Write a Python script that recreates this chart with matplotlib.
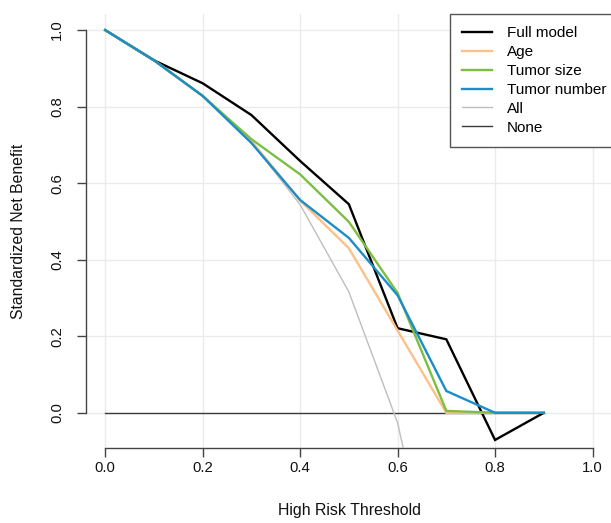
import matplotlib
matplotlib.use("Agg")
import matplotlib.pyplot as plt

plt.rcParams['font.family'] = ['Liberation Sans', 'DejaVu Sans']

# thresholds and standardized net benefit
thresholds = [0.0, 0.1, 0.2, 0.3, 0.4, 0.5, 0.6, 0.7, 0.8, 0.9]
full_model = [1.0, 0.921, 0.861, 0.778, 0.658, 0.545, 0.221, 0.192, -0.071, 0.0]
age = [1.0, 0.921, 0.828, 0.710, 0.555, 0.430, 0.215, 0.0, 0.0, 0.0]
tumor_size = [1.0, 0.921, 0.828, 0.715, 0.623, 0.499, 0.313, 0.005, 0.0, 0.0]
tumor_number = [1.0, 0.921, 0.828, 0.705, 0.556, 0.457, 0.307, 0.057, 0.0, 0.0]
treat_all = [1.0, 0.924, 0.829, 0.707, 0.544, 0.316, -0.026, -0.596, -1.736, -5.16]
treat_none = [0.0, 0.0, 0.0, 0.0, 0.0, 0.0, 0.0, 0.0, 0.0, 0.0]

labels = ['Full model', 'Age', 'Tumor size', 'Tumor number', 'All', 'None']
colors = ['#000000', '#FDC086', '#7DBE42', '#1B8DC8', '#BEBEBE', '#3A3A3A']
widths = [1.7, 1.7, 1.7, 1.7, 1.0, 1.0]
series = [full_model, age, tumor_size, tumor_number, treat_all, treat_none]
ticks = [0.0, 0.2, 0.4, 0.6, 0.8, 1.0]
tick_labels = ['0.0', '0.2', '0.4', '0.6', '0.8', '1.0']

W, H = 611, 523
fig = plt.figure(figsize=(W / 100, H / 100), dpi=100)
ax = fig.add_axes([85.7 / W, (H - 448) / H, (612 - 85.7) / W, (448 - 14) / H])

lines = {}
# background lines first, blue last so it sits on top
for i in [5, 4, 0, 1, 2, 3]:
    ln, = ax.plot(thresholds, series[i], color=colors[i], lw=widths[i],
                  label=labels[i], solid_joinstyle='miter', zorder=3)
    lines[i] = ln

ax.set_xlim(-0.04, 1.04)
ax.set_ylim(-0.092, 1.042)
ax.set_xticks(ticks)
ax.set_xticklabels(tick_labels)
ax.set_yticks(ticks)
ax.set_yticklabels(tick_labels, rotation=90, va='center')
ax.grid(True, color='#EBEBEB', lw=1.0, zorder=0)
ax.set_axisbelow(True)

for s in ['top', 'right']:
    ax.spines[s].set_visible(False)
for s in ['left', 'bottom']:
    ax.spines[s].set_bounds(0, 1)
    ax.spines[s].set_color('#444444')
    ax.spines[s].set_linewidth(1.0)
ax.tick_params(axis='both', length=6.5, width=1.0, color='#444444',
               labelsize=10.7, labelcolor='#111111')
ax.tick_params(axis='x', pad=2.5)
ax.tick_params(axis='y', pad=9)

fig.text(349 / W, 1 - 510 / H, 'High Risk Threshold', ha='center', va='center',
         fontsize=11.4, color='#111111')
fig.text(19 / W, 1 - 231 / H, 'Standardized Net Benefit', ha='center', va='center',
         rotation=90, fontsize=11.3, color='#111111')

# legend box starts at x=450px and runs off the right edge like the original
leg = ax.legend([lines[i] for i in range(6)], labels, loc='upper left',
                bbox_to_anchor=((450 - 85.7) / (612 - 85.7), 1.0), borderaxespad=0,
                fontsize=11, handlelength=1.95, handletextpad=0.95, borderpad=0.8,
                labelspacing=0.32, fancybox=False, framealpha=1)
leg.get_frame().set_edgecolor('#555555')
leg.get_frame().set_linewidth(1.0)

fig.savefig('out.png', dpi=100)
